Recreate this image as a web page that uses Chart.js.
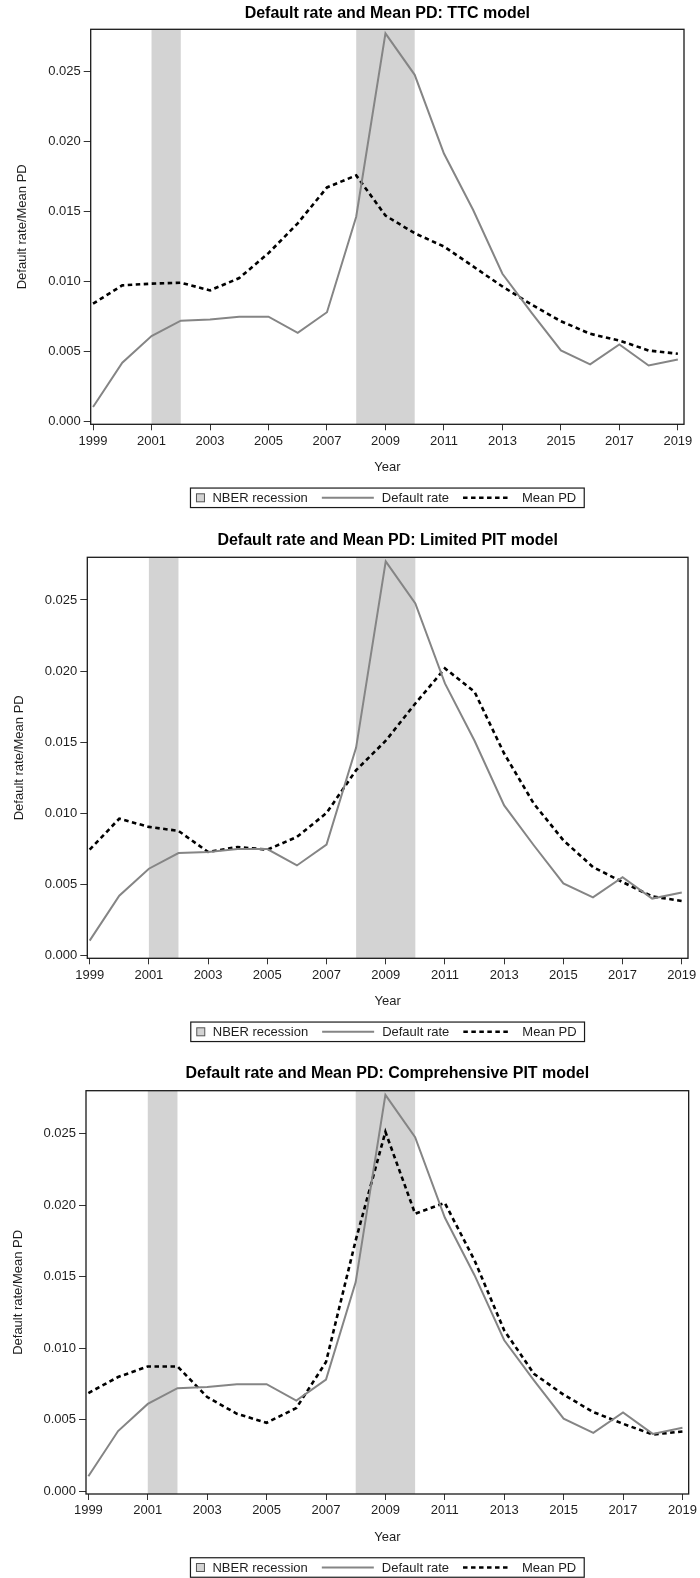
<!DOCTYPE html>
<html>
<head>
<meta charset="utf-8">
<script src="https://cdn.jsdelivr.net/npm/chart.js@4.4.1/dist/chart.umd.min.js"></script>
<style>
  html, body { margin: 0; padding: 0; background: #fff; }
  body { width: 700px; height: 1578px; position: relative; overflow: hidden; }
  canvas { position: absolute; left: 0; display: block; }
</style>
</head>
<body>
<canvas id="ttc" width="700" height="526" style="top:0px"></canvas>
<canvas id="limited" width="700" height="533" style="top:526px"></canvas>
<canvas id="comprehensive" width="700" height="519" style="top:1059px"></canvas>
<script>
// ---- data ----
const years = [1999, 2000, 2001, 2002, 2003, 2004, 2005, 2006, 2007, 2008, 2009,
               2010, 2011, 2012, 2013, 2014, 2015, 2016, 2017, 2018, 2019];

const defaultRate = [0.00104, 0.0042, 0.0061, 0.0072, 0.00728, 0.00748, 0.00748, 0.00633, 0.0078, 0.01462, 0.02771,
                     0.02475, 0.01913, 0.0151, 0.01055, 0.00775, 0.00507, 0.00408, 0.0055, 0.004, 0.00443];

const meanPdTTC = [0.00841, 0.00972, 0.00984, 0.00991, 0.00936, 0.01024, 0.01202, 0.01415, 0.01671, 0.01757, 0.0147,
                   0.01344, 0.01249, 0.01107, 0.00964, 0.00834, 0.00716, 0.00626, 0.00578, 0.00507, 0.00484];

const meanPdLimitedPIT = [0.00744, 0.00962, 0.00904, 0.00876, 0.00728, 0.00763, 0.00744, 0.00833, 0.01002, 0.01303, 0.0151,
                          0.01772, 0.02019, 0.01854, 0.0142, 0.01068, 0.0081, 0.00622, 0.00516, 0.00415, 0.00383];

const meanPdComprehensivePIT = [0.00686, 0.00798, 0.00872, 0.00872, 0.00658, 0.00541, 0.00478, 0.00581, 0.00903, 0.01754, 0.02512,
                                0.0194, 0.02015, 0.01614, 0.01124, 0.00821, 0.00674, 0.00553, 0.00471, 0.00396, 0.00417];

// NBER recession periods (start year, end year)
const recessionStart = [2001, 2008];
const recessionEnd = [2002, 2010];

const xTickValues = [1999, 2001, 2003, 2005, 2007, 2009, 2011, 2013, 2015, 2017, 2019];
const yTickValues = [0, 0.005, 0.01, 0.015, 0.02, 0.025];

const panelTitles = [
  'Default rate and Mean PD: TTC model',
  'Default rate and Mean PD: Limited PIT model',
  'Default rate and Mean PD: Comprehensive PIT model'
];
const recessionLabel = 'NBER recession';
const defaultRateLabel = 'Default rate';
const meanPdLabel = 'Mean PD';
const xAxisTitle = 'Year';
const yAxisTitle = 'Default rate/Mean PD';

// ---- styling ----
const FONT = '"Liberation Sans", Arial, sans-serif';
const TEXT_COLOR = '#1e1e1e';
const SHADE_COLOR = '#d3d3d3';
const DEFAULT_COLOR = '#858585';
const MEAN_COLOR = '#000000';
const MEAN_DASH = [4.5, 3.5];

// panel geometry inside each canvas
const panels = [
  { id: 'ttc',           series: meanPdTTC,              h: 526, left: 90.7, right: 684, top: 29.3, bottom: 424.3, titleY: 13.5 },
  { id: 'limited',       series: meanPdLimitedPIT,       h: 533, left: 87.3, right: 688, top: 31.3, bottom: 432.3, titleY: 14.5 },
  { id: 'comprehensive', series: meanPdComprehensivePIT, h: 519, left: 86,   right: 690, top: 31.7, bottom: 435,   titleY: 14.5 }
];
const X_AXIS_HEIGHT = 55;
const LEGEND_OFFSET = 73.5; // legend centre below the plot frame

// shading, frame, title and legend
const panelDecor = {
  id: 'panelDecor',
  beforeDatasetsDraw(chart) {
    const { ctx, chartArea: a, scales: { x } } = chart;
    ctx.save();
    ctx.beginPath();
    ctx.rect(a.left, a.top, a.right - a.left, a.bottom - a.top);
    ctx.clip();
    ctx.fillStyle = SHADE_COLOR;
    recessionStart.forEach((s, i) => {
      const x0 = x.getPixelForValue(s);
      const x1 = x.getPixelForValue(recessionEnd[i]);
      ctx.fillRect(x0, a.top, x1 - x0, a.bottom - a.top);
    });
    ctx.restore();
  },
  afterDraw(chart, args, opts) {
    const { ctx, chartArea: a } = chart;
    ctx.save();
    // frame
    ctx.strokeStyle = '#1a1a1a';
    ctx.lineWidth = 1.3;
    ctx.strokeRect(a.left, a.top, a.right - a.left, a.bottom - a.top);

    // title
    const cx = (a.left + a.right) / 2;
    ctx.fillStyle = '#000';
    ctx.font = 'bold 16px ' + FONT;
    ctx.textAlign = 'center';
    ctx.textBaseline = 'middle';
    ctx.fillText(opts.title, cx, opts.titleY);

    // legend
    ctx.font = '13px ' + FONT;
    const ds = chart.data.datasets;
    const wRec = ctx.measureText(recessionLabel).width;
    const wDef = ctx.measureText(ds[0].label).width;
    const wMean = ctx.measureText(ds[1].label).width;
    const pad = 6, sq = 8, gapSym = 8, gapItem = 14, lineLen = 52, dashLen = 48;
    const total = pad + sq + gapSym + wRec + gapItem + lineLen + gapSym + wDef + gapItem + dashLen + 11 + wMean + 8;
    const lx = cx - total / 2;
    const ly = a.bottom + LEGEND_OFFSET;
    const bh = 19.5;
    ctx.strokeStyle = '#1a1a1a';
    ctx.lineWidth = 1.2;
    ctx.strokeRect(lx, ly - bh / 2, total, bh);

    let px = lx + pad;
    ctx.fillStyle = SHADE_COLOR;
    ctx.fillRect(px, ly - sq / 2, sq, sq);
    ctx.strokeStyle = '#555';
    ctx.lineWidth = 1;
    ctx.strokeRect(px, ly - sq / 2, sq, sq);
    px += sq + gapSym;
    ctx.fillStyle = TEXT_COLOR;
    ctx.textAlign = 'left';
    ctx.fillText(recessionLabel, px, ly + 0.5);
    px += wRec + gapItem;

    ctx.strokeStyle = ds[0].borderColor;
    ctx.lineWidth = ds[0].borderWidth;
    ctx.beginPath();
    ctx.moveTo(px, ly);
    ctx.lineTo(px + lineLen, ly);
    ctx.stroke();
    px += lineLen + gapSym;
    ctx.fillText(ds[0].label, px, ly + 0.5);
    px += wDef + gapItem;

    ctx.strokeStyle = ds[1].borderColor;
    ctx.lineWidth = ds[1].borderWidth;
    ctx.setLineDash(ds[1].borderDash);
    ctx.beginPath();
    ctx.moveTo(px, ly);
    ctx.lineTo(px + dashLen, ly);
    ctx.stroke();
    ctx.setLineDash([]);
    px += dashLen + 11;
    ctx.fillText(ds[1].label, px, ly + 0.5);
    ctx.restore();
  }
};

function buildPanel(p, title) {
  const ctx = document.getElementById(p.id);
  return new Chart(ctx, {
    type: 'line',
    data: {
      datasets: [
        {
          label: defaultRateLabel,
          data: years.map((y, i) => ({ x: y, y: defaultRate[i] })),
          borderColor: DEFAULT_COLOR,
          borderWidth: 2,
          pointRadius: 0,
          tension: 0,
          fill: false
        },
        {
          label: meanPdLabel,
          data: years.map((y, i) => ({ x: y, y: p.series[i] })),
          borderColor: MEAN_COLOR,
          borderWidth: 2.6,
          borderDash: MEAN_DASH,
          pointRadius: 0,
          tension: 0,
          fill: false
        }
      ]
    },
    options: {
      responsive: false,
      animation: false,
      events: [],
      layout: {
        padding: { top: p.top, left: 0, right: 700 - p.right, bottom: p.h - p.bottom - X_AXIS_HEIGHT }
      },
      plugins: {
        legend: { display: false },
        title: { display: false },
        tooltip: { enabled: false },
        panelDecor: { title: title, titleY: p.titleY }
      },
      scales: {
        x: {
          type: 'linear',
          min: 1998.92,
          max: 2019.21,
          afterBuildTicks: (s) => { s.ticks = xTickValues.map(v => ({ value: v })); },
          afterFit: (s) => { s.height = X_AXIS_HEIGHT; },
          grid: { drawOnChartArea: false, drawTicks: true, tickLength: 6, color: '#333', lineWidth: 1 },
          border: { display: false },
          ticks: {
            color: TEXT_COLOR,
            font: { family: FONT, size: 13 },
            padding: 3,
            maxRotation: 0,
            autoSkip: false,
            callback: (v) => String(v)
          },
          title: {
            display: true,
            text: xAxisTitle,
            color: TEXT_COLOR,
            font: { family: FONT, size: 13 },
            padding: { top: 0, bottom: 4 }
          }
        },
        y: {
          type: 'linear',
          min: -0.0002,
          max: 0.028,
          afterBuildTicks: (s) => { s.ticks = yTickValues.map(v => ({ value: v })); },
          afterFit: (s) => { s.width = p.left; },
          grid: { drawOnChartArea: false, drawTicks: true, tickLength: 7, color: '#333', lineWidth: 1 },
          border: { display: false },
          ticks: {
            color: TEXT_COLOR,
            font: { family: FONT, size: 13 },
            padding: 3,
            callback: (v) => Number(v).toFixed(3)
          },
          title: {
            display: true,
            text: yAxisTitle,
            color: TEXT_COLOR,
            font: { family: FONT, size: 13 },
            padding: { top: p.left - 68 - 7.8, bottom: 0 }
          }
        }
      }
    },
    plugins: [panelDecor]
  });
}

panels.forEach((p, i) => buildPanel(p, panelTitles[i]));
</script>
</body>
</html>
